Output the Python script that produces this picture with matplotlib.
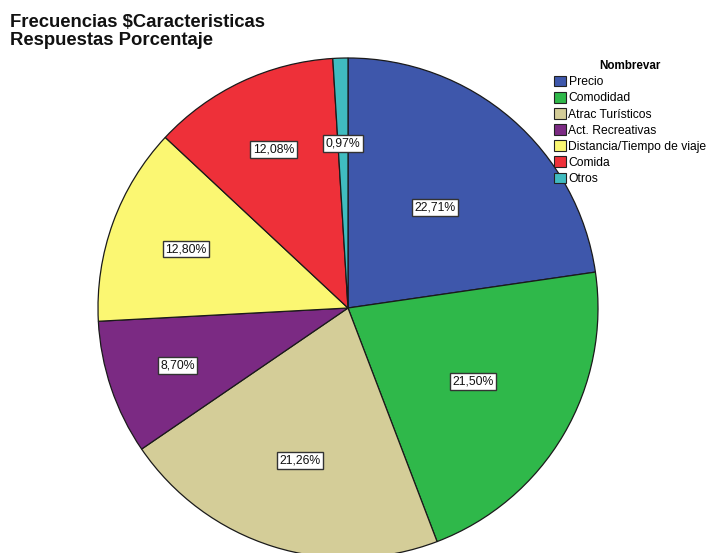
import numpy as np
import matplotlib
matplotlib.use("Agg")
import matplotlib.pyplot as plt
from matplotlib.patches import Patch

plt.rcParams['font.family'] = ['Liberation Sans', 'DejaVu Sans']

categories = ["Precio", "Comodidad", "Atrac Turísticos", "Act. Recreativas",
              "Distancia/Tiempo de viaje", "Comida", "Otros"]
percentages = [22.71, 21.50, 21.26, 8.70, 12.80, 12.08, 0.97]
colors = ["#3e57ab", "#2fb84a", "#d4cd98", "#7b2a83", "#fbf772", "#ee3039", "#40bcc0"]
# radial position of each percentage label (fraction of radius)
label_radius = [0.53, 0.58, 0.64, 0.72, 0.69, 0.70, 0.66]

W, H = 710, 553
cx, cy, R = 348, 308, 250

fig = plt.figure(figsize=(W / 100, H / 100), dpi=100)
ax = fig.add_axes([0, 0, 1, 1])

wedges, _ = ax.pie(percentages, colors=colors, startangle=90, counterclock=False,
                   radius=1.0, center=(0, 0), frame=True,
                   wedgeprops=dict(edgecolor="#1a1a1a", linewidth=0.9))
ax.set_xlim(-cx / R, (W - cx) / R)
ax.set_ylim((cy - H) / R, cy / R)
ax.set_aspect('equal')
ax.axis('off')

for w, p, lr in zip(wedges, percentages, label_radius):
    ang = np.deg2rad((w.theta1 + w.theta2) / 2)
    x, y = lr * np.cos(ang), lr * np.sin(ang)
    ax.text(x, y, f"{p:.2f}%".replace(".", ","), ha="center", va="center",
            fontsize=8.8, color="#111111",
            bbox=dict(boxstyle="square,pad=0.2", fc="white", ec="#333333", lw=1.0))

fig.text(10 / W, 1 - 14 / H, "Frecuencias \\$Caracteristicas\nRespuestas Porcentaje",
         ha="left", va="top", fontsize=13.3, fontweight="bold", linespacing=1.05,
         color="#111111")

handles = [Patch(facecolor=c, edgecolor="#222222", linewidth=0.8) for c in colors]
leg = fig.legend(handles, categories, title="Nombrevar",
                 loc="upper left", bbox_to_anchor=(554 / W, 1 - 60 / H),
                 frameon=False, fontsize=8.7, title_fontproperties=dict(weight="bold", size=8.4),
                 handlelength=1.0, handleheight=1.0, handletextpad=0.2,
                 labelspacing=0.3, borderpad=0.0, borderaxespad=0.0)
leg._legend_box.align = "center"

fig.savefig("out.png", dpi=100)
